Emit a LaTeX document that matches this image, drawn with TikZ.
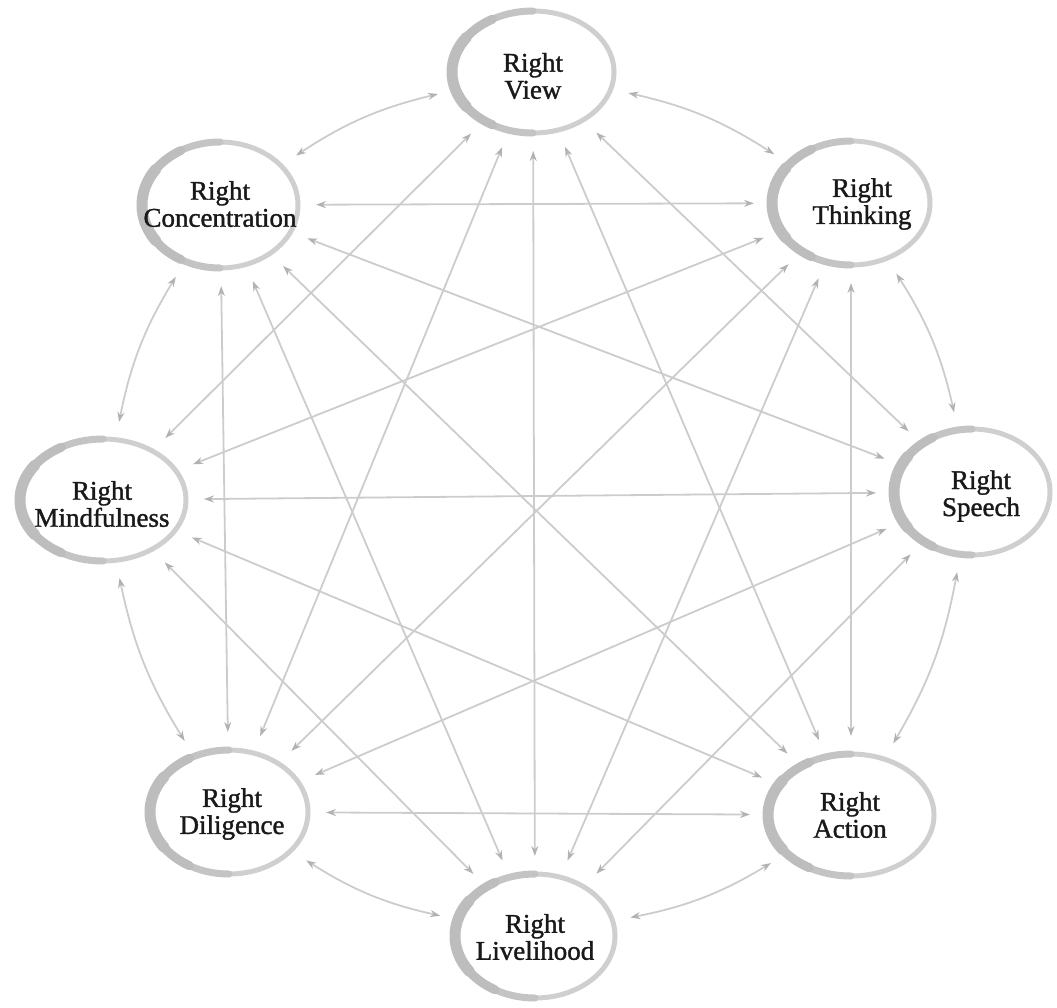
\documentclass[tikz,border=0pt]{standalone}
\usepackage{fontspec}
\setmainfont{Liberation Serif}
\newfontfamily\lblfont[FakeBold=1.3]{Liberation Serif}
\usetikzlibrary{arrows.meta,shapes.geometric}
\definecolor{linkgray}{gray}{0.80}
\definecolor{tipgray}{gray}{0.70}
\definecolor{ensolight}{gray}{0.81}
\definecolor{ensomid}{gray}{0.77}
\definecolor{ensodark}{gray}{0.74}
\definecolor{textdark}{gray}{0.10}
\newcommand\ensoring[3]{%
  \draw[ensolight, line width=5pt] (#1.center) ellipse [x radius=#2, y radius=#3];
  \draw[ensomid, line width=7pt, line cap=round] (#1.center) ++(90:#2 and #3) arc[start angle=90, end angle=270, x radius=#2, y radius=#3];
  \draw[ensodark, line width=9pt, line cap=round] (#1.center) ++(120:#2 and #3) arc[start angle=120, end angle=240, x radius=#2, y radius=#3];
  \draw[ensodark, line width=11pt, line cap=round] (#1.center) ++(145:#2 and #3) arc[start angle=145, end angle=215, x radius=#2, y radius=#3];
}
\begin{document}
\begin{tikzpicture}[x=1pt,y=-1pt,
  station/.style={ellipse, draw=none, inner sep=0pt, outer sep=9pt},
  lbl/.style={align=center, inner sep=0pt, text=textdark, font=\lblfont\fontsize{27}{27}\selectfont},
  link/.style={draw=linkgray, line width=1.8pt,
    {Stealth[length=10pt,width=7pt,color=tipgray]}-{Stealth[length=10pt,width=7pt,color=tipgray]},
    shorten <=5pt, shorten >=5pt}]
\useasboundingbox (0,0) rectangle (1057,1007);
% stations (ellipse outline positions)
\node[station, minimum width=170pt, minimum height=130pt] (V) at (533,72) {};
\node[station, minimum width=166pt, minimum height=132pt] (T) at (851,203) {};
\node[station, minimum width=164pt, minimum height=134pt] (S) at (972,492) {};
\node[station, minimum width=174pt, minimum height=130pt] (A) at (851,815) {};
\node[station, minimum width=168pt, minimum height=132pt] (L) at (535,936) {};
\node[station, minimum width=166pt, minimum height=132pt] (D) at (229,812) {};
\node[station, minimum width=174pt, minimum height=130pt] (M) at (103,500) {};
\node[station, minimum width=164pt, minimum height=134pt] (C) at (220,205) {};
% outer ring connections
\draw[link] (V) to[bend left=10] (T);
\draw[link] (T) to[bend left=10] (S);
\draw[link] (S) to[bend left=10] (A);
\draw[link] (A) to[bend left=10] (L);
\draw[link] (L) to[bend left=10] (D);
\draw[link] (D) to[bend left=10] (M);
\draw[link] (M) to[bend left=10] (C);
\draw[link] (C) to[bend left=10] (V);
% inner connections
\draw[link] (V) -- (S);
\draw[link] (V) -- (A);
\draw[link] (V) -- (L);
\draw[link] (V) -- (D);
\draw[link] (V) -- (M);
\draw[link] (T) -- (A);
\draw[link] (T) -- (L);
\draw[link] (T) -- (D);
\draw[link] (T) -- (M);
\draw[link] (T) -- (C);
\draw[link] (S) -- (L);
\draw[link] (S) -- (D);
\draw[link] (S) -- (M);
\draw[link] (S) -- (C);
\draw[link] (A) -- (D);
\draw[link] (A) -- (M);
\draw[link] (A) -- (C);
\draw[link] (L) -- (M);
\draw[link] (L) -- (C);
\draw[link] (D) -- (C);
% enso rings
\ensoring{V}{81}{61}
\ensoring{T}{79}{62}
\ensoring{S}{78}{63}
\ensoring{A}{83}{61}
\ensoring{L}{80}{62}
\ensoring{D}{79}{62}
\ensoring{M}{83}{61}
\ensoring{C}{78}{63}
% labels
\node[lbl] (Vt) at (533,76) {Right\\View};
\node[lbl] (Tt) at (862,204) {Right\\Thinking};
\node[lbl] (St) at (981,496) {Right\\Speech};
\node[lbl] (At) at (850,815) {Right\\Action};
\node[lbl] (Lt) at (535,937) {Right\\Livelihood};
\node[lbl] (Dt) at (232,814) {Right\\Diligence};
\node[lbl] (Mt) at (102,504) {Right\\Mindfulness};
\node[lbl] (Ct) at (220,204) {Right\\Concentration};
\end{tikzpicture}
\end{document}
